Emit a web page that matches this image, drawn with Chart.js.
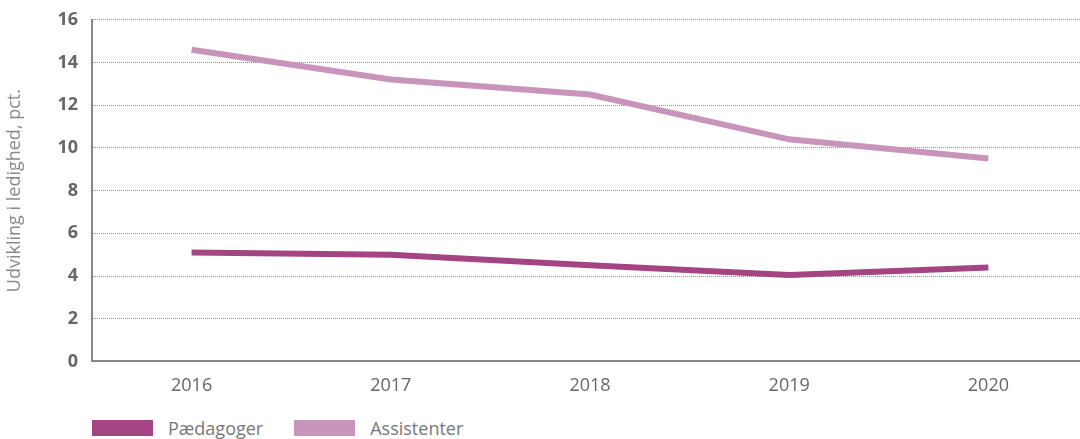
<!DOCTYPE html>
<html>
<head>
<meta charset="utf-8">
<script src="https://cdn.jsdelivr.net/npm/chart.js@4.4.1/dist/chart.umd.min.js"></script>
<style>
    html, body { margin: 0; padding: 0; background: #fff; overflow: hidden; }
    #chart { display: block; margin-top: -5px; }
    #legend { position: absolute; left: 92px; top: 416px; display: flex; font-family: 'Open Sans', sans-serif; font-size: 18px; color: #777; }
    .item { display: flex; align-items: center; margin-right: 31px; }
    .box { width: 61px; height: 16px; margin-right: 15px; }
</style>
</head>
<body>
<canvas id="chart" width="1088" height="416"></canvas>
<div id="legend"></div>
<script>
// ── Data ─────────────────────────────────────────────
const years = ['2016', '2017', '2018', '2019', '2020'];
const paedagoger = [5.1, 5.0, 4.5, 4.05, 4.4];
const assistenter = [14.6, 13.2, 12.5, 10.4, 9.5];
const seriesNames = ['Pædagoger', 'Assistenter'];
const seriesColors = ['#a54482', '#c994b9'];

const FONT = "'Open Sans', sans-serif";

const chart = new Chart(document.getElementById('chart'), {
    type: 'line',
    data: {
        labels: years,
        datasets: [paedagoger, assistenter].map((d, i) => ({
            label: seriesNames[i],
            data: d,
            borderColor: seriesColors[i],
            backgroundColor: seriesColors[i],
            borderWidth: 6,
            pointRadius: 0,
            tension: 0,
            borderCapStyle: 'butt'
        }))
    },
    options: {
        responsive: false,
        animation: false,
        layout: { padding: { top: 0, left: 4, right: 0, bottom: 0 } },
        plugins: { legend: { display: false }, tooltip: { enabled: false } },
        scales: {
            x: {
                offset: true,
                grid: { display: false, drawTicks: false },
                border: { display: true, color: '#888', width: 2 },
                ticks: { color: '#666', font: { family: FONT, size: 18 }, padding: 14 }
            },
            y: {
                min: 0,
                max: 16,
                afterFit: s => { s.width = 88; },
                // v4: border.dash styles the grid lines, the axis line stays solid
                grid: { color: '#8a8a8a', lineWidth: 1, drawTicks: false },
                border: { display: true, color: '#888', width: 2, dash: [1, 1] },
                ticks: { stepSize: 2, color: '#666', font: { family: FONT, size: 18, weight: 'bold' }, padding: 14 },
                title: {
                    display: true,
                    text: 'Udvikling i ledighed, pct.',
                    color: '#8a8a8a',
                    font: { family: FONT, size: 18, weight: 'normal' },
                    padding: { top: 0, bottom: 0 }
                }
            }
        }
    }
});

// ── Legend ───────────────────────────────────────────
const legend = document.getElementById('legend');
seriesNames.forEach((name, i) => {
    const item = document.createElement('div');
    item.className = 'item';
    item.innerHTML = `<span class="box" style="background:${seriesColors[i]}"></span><span>${name}</span>`;
    legend.appendChild(item);
});
</script>
</body>
</html>
